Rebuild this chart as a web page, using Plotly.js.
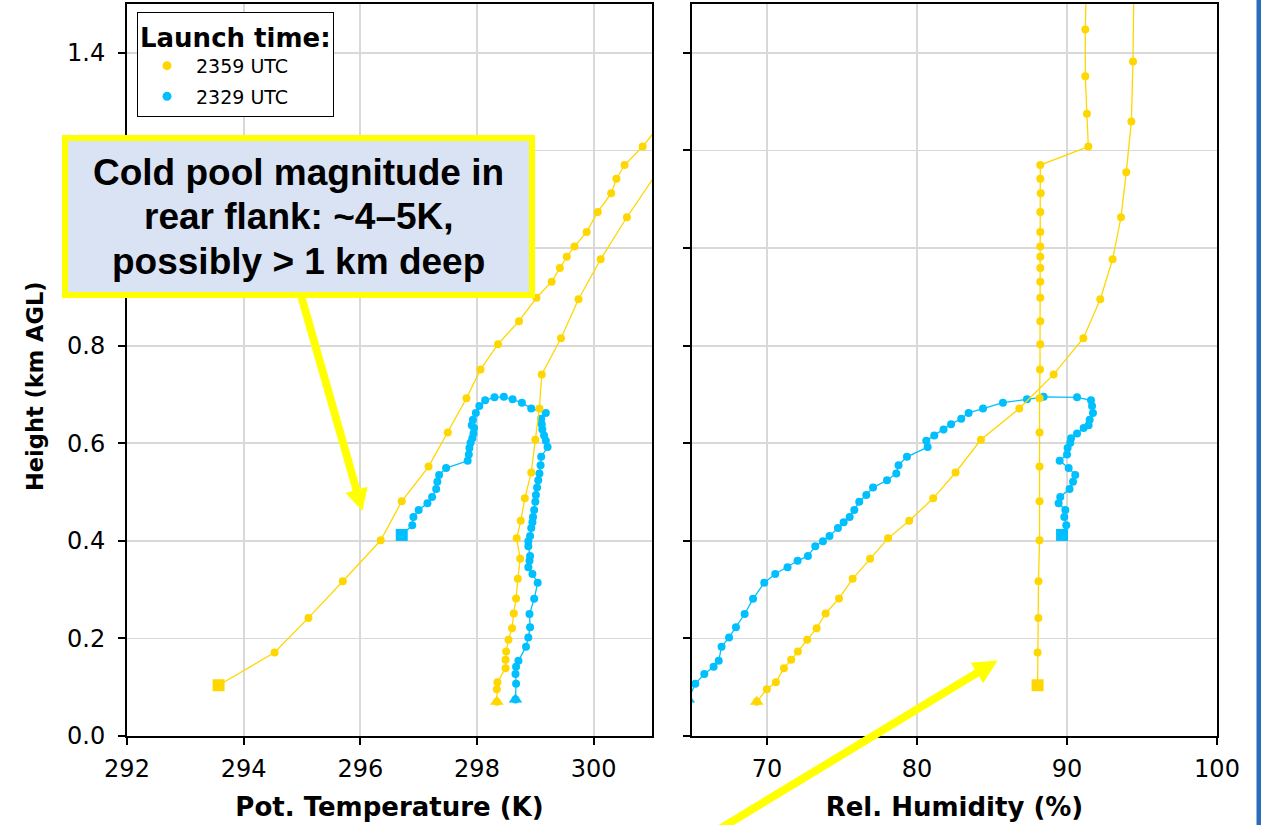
<!DOCTYPE html>
<html>
<head>
<meta charset="utf-8">
<script src="https://cdn.plot.ly/plotly-3.0.1.min.js"></script>
<style>
html, body { margin: 0; padding: 0; background: #ffffff; }
#chart { width: 1261px; height: 825px; }
</style>
</head>
<body>
<div id="chart"></div>
<script>
// ---------------- DATA ----------------
const launchLabels = ['2359 UTC', '2329 UTC'];
const launchColors = ['#FFD700', '#00BFFF'];

// 2359 UTC sounding (ascent from triangle, descent to square)
const height2359 = [0.070, 0.096, 0.110, 0.139, 0.156, 0.173, 0.197, 0.221, 0.251, 0.282,
  0.322, 0.363, 0.405, 0.441, 0.487, 0.540, 0.607, 0.671, 0.741, 0.815,
  0.895, 0.977, 1.063, 1.155, 1.259, 1.382, 1.55, 1.55,
  1.448, 1.352, 1.275, 1.208, 1.170, 1.142, 1.112, 1.074, 1.033, 1.003,
  0.982, 0.959, 0.931, 0.898, 0.850, 0.803, 0.751, 0.692, 0.622, 0.552,
  0.481, 0.401, 0.317, 0.242, 0.171, 0.104];
const theta2359 = [298.34, 298.34, 298.35, 298.49, 298.49, 298.50, 298.54, 298.60, 298.63, 298.67,
  298.70, 298.74, 298.68, 298.75, 298.82, 298.93, 299.00, 299.07, 299.11, 299.44,
  299.74, 300.12, 300.57, 301.09, 301.60, 302.20, 302.95, 303.30,
  302.45, 301.85, 301.29, 300.84, 300.53, 300.39, 300.30, 300.07, 299.88, 299.67,
  299.54, 299.42, 299.28, 299.02, 298.72, 298.36, 298.06, 297.82, 297.50, 297.17,
  296.71, 296.35, 295.70, 295.11, 294.53, 293.57];
const rh2359 = [69.32, 69.99, 70.59, 71.13, 71.61, 72.06, 72.68, 73.31, 73.91, 74.80,
  75.71, 76.87, 78.07, 79.48, 81.08, 82.57, 84.26, 86.82, 89.11, 91.09,
  92.22, 93.04, 93.60, 93.95, 94.29, 94.40, 94.46, 91.30,
  91.22, 91.22, 91.33, 91.42, 88.22, 88.22, 88.25, 88.22, 88.22, 88.22,
  88.22, 88.22, 88.22, 88.22, 88.22, 88.22, 88.20, 88.17, 88.17, 88.17,
  88.17, 88.17, 88.10, 88.09, 88.04, 88.04];

// 2329 UTC sounding
const height2329 = [0.075, 0.107, 0.127, 0.142, 0.154, 0.183, 0.202, 0.223, 0.250, 0.281,
  0.314, 0.332, 0.346, 0.359, 0.369, 0.389, 0.399, 0.410, 0.426, 0.438,
  0.449, 0.463, 0.480, 0.494, 0.509, 0.524, 0.538, 0.555, 0.572, 0.592,
  0.605, 0.616, 0.628, 0.639, 0.650, 0.662, 0.671, 0.683, 0.690, 0.695,
  0.694, 0.688, 0.676, 0.662, 0.648, 0.637, 0.631, 0.620, 0.610, 0.601,
  0.590, 0.577, 0.564, 0.549, 0.535, 0.521, 0.506, 0.490, 0.477, 0.463,
  0.449, 0.432, 0.412];
const theta2329 = [298.66, 298.67, 298.66, 298.67, 298.71, 298.84, 298.88, 298.91, 298.90, 298.98,
  299.04, 298.95, 298.88, 298.90, 298.91, 298.88, 298.88, 298.91, 298.93, 298.95,
  298.96, 298.98, 299.00, 299.01, 299.03, 299.05, 299.07, 299.09, 299.10, 299.21,
  299.18, 299.15, 299.12, 299.11, 299.10, 299.18, 298.93, 298.77, 298.61, 298.46,
  298.30, 298.14, 298.04, 297.98, 297.93, 297.91, 297.95, 297.94, 297.92, 297.89,
  297.87, 297.86, 297.84, 297.47, 297.35, 297.32, 297.30, 297.23, 297.15, 297.00,
  296.91, 296.89, 296.71];
const rh2329 = [64.75, 65.22, 65.82, 66.44, 66.78, 66.97, 67.47, 67.93, 68.51, 69.07,
  69.82, 70.55, 71.37, 72.04, 72.73, 73.22, 73.73, 74.17, 74.73, 75.11,
  75.51, 75.82, 76.15, 76.62, 77.07, 78.00, 78.62, 78.77, 79.33, 80.71,
  80.62, 81.15, 81.77, 82.27, 82.95, 83.44, 84.40, 85.73, 87.33, 88.44,
  90.67, 91.60, 91.67, 91.73, 91.51, 91.44, 91.11, 90.67, 90.27, 90.22,
  90.04, 90.00, 89.51, 90.11, 90.55, 90.40, 90.17, 89.55, 89.44, 89.89,
  89.82, 89.95, 89.67];

const thetaTicks = [292, 294, 296, 298, 300];
const rhTicks = [70, 80, 90, 100];
const heightTicks = [0.0, 0.2, 0.4, 0.6, 0.8, 1.0, 1.2, 1.4];
const calloutLines = ['Cold pool magnitude in', 'rear flank: ~4\u20135K,', 'possibly > 1 km deep'];
const heightTitle = 'Height (km AGL)';

// ---------------- FIGURE ----------------
const W = 1261, H = 825;
const px = p => p / W;
const py = p => 1 - p / H;

const soundings = [
  { name: launchLabels[1], color: launchColors[1], h: height2329, th: theta2329, rh: rh2329 },
  { name: launchLabels[0], color: launchColors[0], h: height2359, th: theta2359, rh: rh2359 }
];

const traces = [];
// legend entries (marker only), in legend order
[0, 1].forEach(i => {
  traces.push({
    type: 'scatter', mode: 'markers', x: [null], y: [null],
    name: launchLabels[i], legendgroup: 'g' + i, showlegend: true,
    marker: { color: launchColors[i], size: 9 }, xaxis: 'x', yaxis: 'y', hoverinfo: 'skip'
  });
});

soundings.forEach(s => {
  const n = s.h.length;
  [['x', 'y', s.th], ['x2', 'y2', s.rh]].forEach(([xa, ya, xs]) => {
    traces.push({
      type: 'scatter', mode: 'lines+markers', x: xs, y: s.h, xaxis: xa, yaxis: ya,
      line: { color: s.color, width: 1.3 }, marker: { color: s.color, size: 8 },
      showlegend: false, cliponaxis: true, name: s.name
    });
    traces.push({
      type: 'scatter', mode: 'markers', x: [xs[0]], y: [s.h[0]], xaxis: xa, yaxis: ya,
      marker: { color: s.color, size: 12, symbol: 'triangle-up' }, showlegend: false, name: s.name
    });
    traces.push({
      type: 'scatter', mode: 'markers', x: [xs[n - 1]], y: [s.h[n - 1]], xaxis: xa, yaxis: ya,
      marker: { color: s.color, size: 12, symbol: 'square' }, showlegend: false, name: s.name
    });
  });
});

const tickFont = { family: 'DejaVu Sans', size: 24, color: '#000' };
const titleFont = { family: 'DejaVu Sans', size: 26, color: '#000', weight: 'bold' };
const axisCommon = {
  showline: true, linecolor: '#000', linewidth: 2, mirror: true,
  ticks: 'outside', ticklen: 7, tickwidth: 2, tickcolor: '#000',
  showgrid: true, gridcolor: '#d9d9d9', gridwidth: 1.8, zeroline: false,
  tickfont: tickFont
};

// arrows as shapes
function arrowShapes(tail, tip, headLen, headHalf, width, color) {
  const dx = tip[0] - tail[0], dy = tip[1] - tail[1];
  const L = Math.hypot(dx, dy), ux = dx / L, uy = dy / L;
  const bx = tip[0] - headLen * ux, by = tip[1] - headLen * uy;
  const nx = -uy, ny = ux;
  const c1 = [bx + headHalf * nx, by + headHalf * ny], c2 = [bx - headHalf * nx, by - headHalf * ny];
  return [
    { type: 'line', xref: 'paper', yref: 'paper', x0: px(tail[0]), y0: py(tail[1]), x1: px(bx + 2 * ux), y1: py(by + 2 * uy),
      line: { color: color, width: width }, layer: 'above' },
    { type: 'path', xref: 'paper', yref: 'paper', layer: 'above',
      path: `M ${px(tip[0])} ${py(tip[1])} L ${px(c1[0])} ${py(c1[1])} L ${px(c2[0])} ${py(c2[1])} Z`,
      fillcolor: color, line: { color: color, width: 0 } }
  ];
}
const yellow = '#FFFF00';
const shapes = [].concat(
  arrowShapes([300, 292], [362.5, 511], 22, 11.5, 8, yellow),
  arrowShapes([713, 833], [997.5, 660.5], 24, 12, 8, yellow),
  [
    { type: 'rect', xref: 'paper', yref: 'paper', layer: 'above',
      x0: px(65), x1: px(532), y0: py(295), y1: py(138),
      fillcolor: '#DAE3F3', line: { color: yellow, width: 6 } },
    { type: 'rect', xref: 'paper', yref: 'paper', layer: 'above',
      x0: px(1256.5), x1: px(1262), y0: 0, y1: 1,
      fillcolor: '#2A6EBB', line: { width: 0 } }
  ]
);

const lineY = [172, 217, 261];
const annotations = calloutLines.map((t, i) => ({
  xref: 'paper', yref: 'paper', x: px(298.5), y: py(lineY[i]), xanchor: 'center', yanchor: 'middle',
  text: '<b>' + t + '</b>', showarrow: false,
  font: { family: 'Liberation Sans, Arial, sans-serif', size: 37, color: '#000' }
}));
annotations.push({
  xref: 'paper', yref: 'paper', x: px(35), y: py(386), xanchor: 'center', yanchor: 'middle',
  text: '<b>' + heightTitle + '</b>', textangle: -90, showarrow: false,
  font: { family: 'DejaVu Sans', size: 22.5, color: '#000' }
});

const layout = {
  width: W, height: H,
  margin: { l: 0, r: 0, t: 0, b: 0 },
  paper_bgcolor: '#ffffff', plot_bgcolor: '#ffffff',
  font: { family: 'DejaVu Sans', color: '#000' },
  showlegend: true,
  legend: {
    x: px(137), y: py(12), xanchor: 'left', yanchor: 'top',
    bgcolor: '#ffffff', bordercolor: '#000', borderwidth: 1,
    font: { family: 'DejaVu Sans', size: 19, color: '#000' },
    title: { text: '<b>Launch time:</b>', font: { family: 'DejaVu Sans', size: 26, color: '#000' } },
    tracegroupgap: 3, itemwidth: 48, entrywidth: 185, entrywidthmode: 'pixels'
  },
  xaxis: Object.assign({}, axisCommon, {
    domain: [px(127), px(652)], range: [292, 301], tickvals: thetaTicks, anchor: 'y',
    ticklabelstandoff: 3,
    title: { text: 'Pot. Temperature (K)', font: titleFont, standoff: 16 }
  }),
  yaxis: Object.assign({}, axisCommon, {
    domain: [py(736), py(4)], range: [0, 1.5], tickvals: heightTicks, tickformat: '.1f', anchor: 'x',
    ticklabelstandoff: 8
  }),
  xaxis2: Object.assign({}, axisCommon, {
    domain: [px(692), px(1217)], range: [65, 100], tickvals: rhTicks, anchor: 'y2',
    ticklabelstandoff: 3,
    title: { text: 'Rel. Humidity (%)', font: titleFont, standoff: 16 }
  }),
  yaxis2: Object.assign({}, axisCommon, {
    domain: [py(736), py(4)], range: [0, 1.5], tickvals: heightTicks, anchor: 'x2',
    matches: 'y', showticklabels: false
  }),
  shapes: shapes,
  annotations: annotations
};

Plotly.newPlot('chart', traces, layout, { displayModeBar: false, staticPlot: true });
</script>
</body>
</html>
